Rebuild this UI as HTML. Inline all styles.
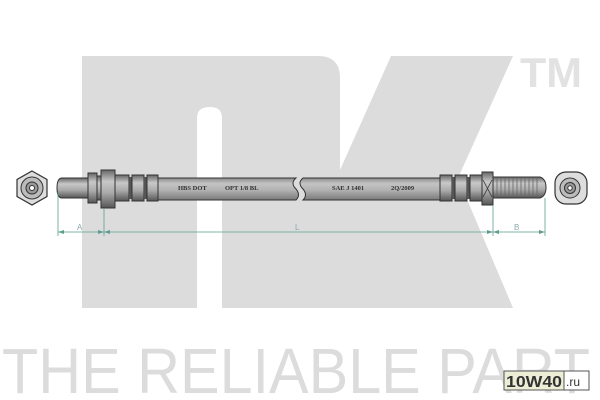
<!DOCTYPE html>
<html><head><meta charset="utf-8"><style>
html,body{margin:0;padding:0;background:#fff;}
svg{display:block;}
</style></head><body>
<svg width="600" height="400" viewBox="0 0 600 400" xmlns="http://www.w3.org/2000/svg">
<defs>
<linearGradient id="hose" x1="0" y1="0" x2="0" y2="1">
<stop offset="0" stop-color="#8a8a8a"/><stop offset="0.25" stop-color="#c4c4c4"/><stop offset="0.55" stop-color="#b2b2b2"/><stop offset="1" stop-color="#7a7a7a"/>
</linearGradient>
<linearGradient id="metal" x1="0" y1="0" x2="0" y2="1">
<stop offset="0" stop-color="#666"/><stop offset="0.3" stop-color="#c8c8c8"/><stop offset="0.6" stop-color="#aaa"/><stop offset="1" stop-color="#555"/>
</linearGradient>
</defs>
<path fill="#dcdcdc" d="M82,56 L318,56 Q340,56 340,78 L340,170 L391,56 L513,56 L458,178 L513,308 L222,308 L222,118 Q222,107 210,107 Q197,107 197,118 L197,308 L82,308 Z"/>
<text x="520" y="87" font-family="Liberation Sans, sans-serif" font-weight="bold" font-size="42" fill="#e2e2e2" textLength="62" lengthAdjust="spacingAndGlyphs">TM</text>
<text x="2" y="393" font-family="Liberation Sans, sans-serif" font-size="64" fill="#dcdcdc" textLength="588" lengthAdjust="spacingAndGlyphs">THE RELIABLE PART</text>

<polygon points="32,171 47,179.5 47,196.5 32,205 17,196.5 17,179.5" fill="#ddd" stroke="#333" stroke-width="1.2"/>
<circle cx="32" cy="188" r="11" fill="#bbb" stroke="#333"/>
<circle cx="32" cy="188" r="6" fill="#999" stroke="#333"/>
<circle cx="32" cy="188" r="2.5" fill="#fff" stroke="#333"/>

<path d="M62,178 L89,178 L89,198 L62,198 Q57,198 57,188 Q57,178 62,178Z" fill="url(#metal)" stroke="#333"/>
<rect x="88" y="173" width="9" height="30" fill="url(#metal)" stroke="#333"/>
<rect x="97" y="176" width="4" height="24" fill="url(#metal)" stroke="#333"/>
<rect x="101" y="170" width="14" height="38" fill="url(#metal)" stroke="#333"/>
<rect x="115" y="175" width="14" height="26" fill="url(#metal)" stroke="#333"/>
<rect x="129" y="177" width="3" height="22" fill="#555"/>
<rect x="132" y="175" width="12" height="26" fill="url(#metal)" stroke="#333"/>
<rect x="144" y="177" width="3" height="22" fill="#555"/>
<rect x="147" y="175" width="11" height="26" fill="url(#metal)" stroke="#333"/>

<path d="M158,178 L296,178 Q290,183 296,189 Q301,195 296,200 L158,200 Z" fill="url(#hose)" stroke="#333"/>
<path d="M303,178 L440,178 L440,200 L303,200 Q308,195 303,189 Q297,183 303,178 Z" fill="url(#hose)" stroke="#333"/>
<g font-family="Liberation Serif, serif" font-weight="bold" font-size="6.5" fill="#333">
<text x="178" y="190">HBS DOT</text>
<text x="225" y="190">OPT 1/8 BL</text>
<text x="332" y="190">SAE J 1401</text>
<text x="391" y="190">2Q/2009</text>
</g>

<rect x="440" y="175" width="12" height="26" fill="url(#metal)" stroke="#333"/>
<rect x="452" y="177" width="3" height="22" fill="#555"/>
<rect x="455" y="175" width="12" height="26" fill="url(#metal)" stroke="#333"/>
<rect x="467" y="177" width="3" height="22" fill="#555"/>
<rect x="470" y="175" width="12" height="26" fill="url(#metal)" stroke="#333"/>
<rect x="482" y="172" width="11" height="33" fill="url(#metal)" stroke="#333"/>
<path d="M483,180 L492,197 M492,180 L483,197" stroke="#333" stroke-width="0.8"/>
<path d="M493,177 L540,177 Q546,179 546,187.5 Q546,196 540,198 L493,198 Z" fill="url(#metal)" stroke="#333"/>
<g stroke="#666" stroke-width="0.8">
<path d="M497,178V197M501,178V197M505,178V197M509,178V197M513,178V197M517,178V197M521,178V197M525,178V197M529,178V197M533,178V197M537,178V197"/>
</g>

<rect x="555" y="172" width="32" height="32" rx="11" fill="#ddd" stroke="#333" stroke-width="1.2"/>
<circle cx="570" cy="188" r="10" fill="#bbb" stroke="#333"/>
<circle cx="570" cy="188" r="5.5" fill="#999" stroke="#333"/>
<circle cx="570" cy="188" r="2.2" fill="#fff" stroke="#333"/>

<g stroke="#5f9e8f" stroke-width="0.8" fill="none">
<path d="M58,192V236 M104,208V236 M493,205V236 M545,198V236"/>
<path d="M58,232H104 M104,232H493 M493,232H545"/>
</g>
<g fill="#5f9e8f">
<path d="M58,232l6,-2v4z M104,232l-6,-2v4z M104,232l6,-2v4z M493,232l-6,-2v4z M493,232l6,-2v4z M545,232l-6,-2v4z"/>
</g>
<g font-family="Liberation Sans, sans-serif" font-size="8" fill="#8aa">
<text x="77" y="230">A</text>
<text x="295" y="230">L</text>
<text x="514" y="230">B</text>
</g>

<rect x="504" y="371" width="60" height="19" fill="#eceed6" stroke="#555" stroke-width="1"/>
<rect x="564" y="371" width="25" height="19" fill="#fff" stroke="#555" stroke-width="1"/>
<text x="506" y="387" font-family="Liberation Sans, sans-serif" font-weight="bold" font-size="16" fill="#333" textLength="56" lengthAdjust="spacingAndGlyphs">10W40</text>
<text x="566" y="386" font-family="Liberation Sans, sans-serif" font-size="12" fill="#333">.ru</text>
</svg>
</body></html>
